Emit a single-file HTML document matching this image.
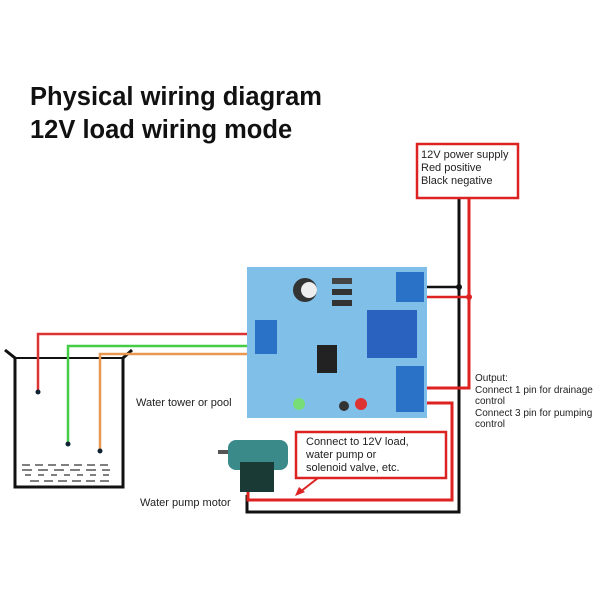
<!DOCTYPE html><html><head><style>
body{margin:0;width:600px;height:600px;background:#fff;position:relative;overflow:hidden;font-family:"Liberation Sans",sans-serif}
.t{position:absolute;color:#222}
</style></head><body>
<div class="t" style="left:30px;top:81px;font-size:25.5px;font-weight:bold;line-height:33px;color:#111">Physical wiring diagram<br>12V load wiring mode</div>
<svg width="600" height="600" style="position:absolute;left:0;top:0">
<path d="M5 350 L15 358 L15 487 L123 487 L123 358 L132 350" fill="none" stroke="#111" stroke-width="3"/>
<line x1="15" y1="358" x2="123" y2="358" stroke="#111" stroke-width="2"/>
<g stroke="#333" stroke-width="1.2">
<line x1="22" y1="465" x2="110" y2="465" stroke-dasharray="8 5"/>
<line x1="22" y1="470" x2="110" y2="470" stroke-dasharray="10 6"/>
<line x1="25" y1="475" x2="115" y2="475" stroke-dasharray="6 7"/>
<line x1="30" y1="481" x2="110" y2="481" stroke-dasharray="9 5"/>
</g>
<polyline points="38,392 38,334 250,334" fill="none" stroke="#d33" stroke-width="2.5"/>
<polyline points="68,444 68,346 250,346" fill="none" stroke="#4c4" stroke-width="2.5"/>
<polyline points="100,451 100,354 250,354" fill="none" stroke="#e89850" stroke-width="2.5"/>
<circle cx="38" cy="392" r="2.5" fill="#123"/><circle cx="68" cy="444" r="2.5" fill="#123"/><circle cx="100" cy="451" r="2.5" fill="#123"/>
<rect x="247" y="267" width="180" height="151" fill="#7fbfe8"/>
<rect x="396" y="272" width="28" height="30" fill="#2a72c8"/>
<rect x="367" y="310" width="50" height="48" fill="#2a62c0"/>
<rect x="396" y="366" width="28" height="46" fill="#2a72c8"/>
<rect x="255" y="320" width="22" height="34" fill="#2a72c8"/>
<circle cx="305" cy="290" r="12" fill="#333"/><circle cx="309" cy="290" r="8" fill="#eee"/>
<rect x="317" y="345" width="20" height="28" fill="#222"/>
<rect x="332" y="278" width="20" height="6" fill="#444"/><rect x="332" y="289" width="20" height="6" fill="#333"/><rect x="332" y="300" width="20" height="6" fill="#333"/>
<circle cx="299" cy="404" r="6" fill="#7d7"/><circle cx="361" cy="404" r="6" fill="#d33"/><circle cx="344" cy="406" r="5" fill="#333"/>
<polyline points="459,198 459,512 247,512 247,495" fill="none" stroke="#111" stroke-width="3"/>
<polyline points="469,198 469,388 427,388" fill="none" stroke="#d22" stroke-width="3"/>
<line x1="427" y1="287" x2="459" y2="287" stroke="#111" stroke-width="2.5"/>
<line x1="427" y1="297" x2="469" y2="297" stroke="#d22" stroke-width="2.5"/>
<circle cx="459" cy="287" r="3" fill="#111"/><circle cx="469" cy="297" r="3" fill="#d22"/>
<polyline points="427,403 452,403 452,500 248,500 248,492" fill="none" stroke="#d22" stroke-width="3"/>
<rect x="417" y="144" width="101" height="54" fill="#fff" stroke="#d22" stroke-width="2.5"/>
<rect x="296" y="432" width="150" height="46" fill="#fff" stroke="#d22" stroke-width="2.5"/>
<line x1="318" y1="478" x2="300" y2="492" stroke="#d22" stroke-width="2"/>
<polygon points="295,496 299,487 305,492" fill="#d22"/>
<rect x="218" y="450" width="10" height="4" fill="#555"/>
<rect x="228" y="440" width="60" height="30" rx="8" fill="#3a8a8a"/>
<rect x="240" y="462" width="34" height="30" fill="#1a3a35"/>
</svg>
<div class="t" style="left:421px;top:149px;font-size:11px;line-height:13px">12V power supply<br>Red positive<br>Black negative</div>
<div class="t" style="left:136px;top:397px;font-size:11px">Water tower or pool</div>
<div class="t" style="left:140px;top:497px;font-size:11px">Water pump motor</div>
<div class="t" style="left:475px;top:373px;font-size:10px;line-height:11.5px">Output:<br>Connect 1 pin for drainage<br>control<br>Connect 3 pin for pumping<br>control</div>
<div class="t" style="left:306px;top:436px;font-size:11px;line-height:13px">Connect to 12V load,<br>water pump or<br>solenoid valve, etc.</div>
</body></html>
